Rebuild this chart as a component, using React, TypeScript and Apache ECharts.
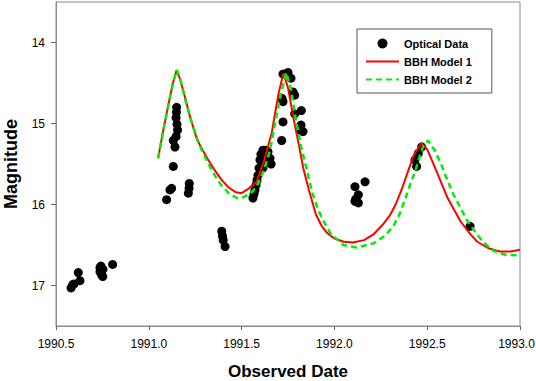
import React, { useEffect, useRef } from "react";
import * as echarts from "echarts";

// Observed optical data (date, magnitude)
const obsDate = [
  1990.581, 1990.59, 1990.597, 1990.62, 1990.629,
  1990.742, 1990.737, 1990.746, 1990.752, 1990.737, 1990.753, 1990.805,
  1991.15, 1991.149, 1991.147, 1991.152, 1991.155, 1991.147, 1991.132, 1991.141, 1991.132, 1991.123, 1991.114, 1991.096, 1991.218, 1991.213, 1991.217,
  1991.393, 1991.397, 1991.401, 1991.411,
  1991.561, 1991.567, 1991.572, 1991.578, 1991.583, 1991.588, 1991.594, 1991.599, 1991.604, 1991.615, 1991.631, 1991.642, 1991.653, 1991.659, 1991.631, 1991.615,
  1991.723, 1991.75, 1991.766, 1991.777, 1991.723, 1991.718, 1991.786, 1991.822, 1991.786, 1991.723, 1991.813, 1991.831, 1991.716, 1991.82,
  1992.165, 1992.111, 1992.129, 1992.111, 1992.129, 1992.116,
  1992.443, 1992.434, 1992.452, 1992.47,
  1992.731,
];
const obsMag = [
  17.03, 16.99, 16.98, 16.84, 16.94,
  16.76, 16.83, 16.87, 16.89, 16.78, 16.8, 16.74,
  14.8, 14.86, 14.93, 15.01, 15.08, 15.16, 15.21, 15.29, 15.53, 15.8, 15.82, 15.94, 15.74, 15.86, 15.8,
  16.33, 16.39, 16.44, 16.52,
  15.92, 15.87, 15.82, 15.76, 15.7, 15.64, 15.55, 15.45, 15.38, 15.33, 15.33, 15.35, 15.43, 15.5, 15.45, 15.55,
  14.39, 14.37, 14.44, 14.61, 14.73, 14.69, 14.65, 14.84, 14.88, 14.98, 15.08, 15.1, 15.21, 15.02,
  15.72, 15.78, 15.88, 15.96, 15.98, 15.93,
  15.53, 15.45, 15.37, 15.29,
  16.27,
];

// BBH Model 1 (red solid)
const model1Date = [
  1991.05, 1991.08, 1991.11, 1991.13, 1991.15, 1991.17, 1991.2, 1991.22, 1991.26, 1991.31,
  1991.35, 1991.39, 1991.43, 1991.47, 1991.5, 1991.54, 1991.58, 1991.617, 1991.64, 1991.662,
  1991.68, 1991.7, 1991.725, 1991.75, 1991.78, 1991.81, 1991.832, 1991.86, 1991.88, 1991.9,
  1991.93, 1991.96, 1992.0, 1992.05, 1992.1, 1992.16, 1992.21, 1992.26, 1992.3, 1992.33,
  1992.36, 1992.4, 1992.43, 1992.47, 1992.5, 1992.53, 1992.57, 1992.61, 1992.68, 1992.73,
  1992.77, 1992.83, 1992.89, 1992.95, 1993.0,
];
const model1Mag = [
  15.43, 15.06, 14.72, 14.5, 14.34, 14.46, 14.72, 14.9, 15.2, 15.41,
  15.56, 15.69, 15.79, 15.85, 15.86, 15.8, 15.72, 15.49, 15.3, 15.12,
  14.88, 14.62, 14.38, 14.56, 14.94, 15.28, 15.55, 15.8, 15.96, 16.12,
  16.26, 16.35, 16.42, 16.46, 16.47, 16.44, 16.37, 16.25, 16.13, 16.0,
  15.83, 15.57, 15.38, 15.24, 15.32, 15.48, 15.7, 15.92, 16.21, 16.36,
  16.46, 16.54, 16.58, 16.58, 16.56,
];

// BBH Model 2 (green dashed)
const model2Date = [
  1991.05, 1991.08, 1991.11, 1991.13, 1991.152, 1991.175, 1991.2, 1991.23, 1991.27, 1991.31,
  1991.35, 1991.39, 1991.43, 1991.475, 1991.51, 1991.55, 1991.58, 1991.62, 1991.653, 1991.68,
  1991.71, 1991.74, 1991.765, 1991.79, 1991.82, 1991.851, 1991.88, 1991.91, 1991.94, 1991.98,
  1992.048, 1992.12, 1992.21, 1992.27, 1992.317, 1992.353, 1992.38, 1992.407, 1992.434, 1992.46,
  1992.48, 1992.505, 1992.54, 1992.575, 1992.605, 1992.64, 1992.677, 1992.71, 1992.75, 1992.8,
  1992.856, 1992.92, 1993.0,
];
const model2Mag = [
  15.43, 15.06, 14.72, 14.5, 14.34, 14.5, 14.74, 14.98, 15.25, 15.45,
  15.62, 15.76, 15.86, 15.92, 15.91, 15.86, 15.78, 15.58, 15.33, 15.0,
  14.65, 14.37, 14.56, 14.92, 15.28, 15.57, 15.85, 16.05, 16.2, 16.36,
  16.5, 16.53, 16.48, 16.39, 16.27, 16.11, 15.94, 15.76, 15.6, 15.4,
  15.27, 15.21, 15.33, 15.5, 15.68, 15.87, 16.03, 16.18, 16.31, 16.46,
  16.57, 16.62, 16.63,
];

const yLabelValues = [14, 15, 16, 17];
const seriesNames = ["Optical Data", "BBH Model 1", "BBH Model 2"];
const xAxisTitle = "Observed Date";
const yAxisTitle = "Magnitude";

const zip = (xs: number[], ys: number[]) => xs.map((x, i) => [x, ys[i]]);

export default function App() {
  const ref = useRef<HTMLDivElement>(null);
  useEffect(() => {
    const chart = echarts.init(ref.current!, null, { renderer: "svg" });
    const font = "'Liberation Sans', Arial, Helvetica, sans-serif";
    const axisGray = "#8a8a8a";
    const xMax = 1993.0;
    chart.setOption({
      animation: false,
      backgroundColor: "#fff",
      grid: {
        left: 56,
        right: 16,
        top: 2,
        bottom: 55,
        show: true,
        borderColor: axisGray,
        borderWidth: 1,
        backgroundColor: "transparent",
        containLabel: false,
        outerBoundsMode: "none",
      },
      xAxis: {
        type: "value",
        min: 1990.5,
        max: xMax,
        interval: 0.5,
        axisLine: { show: true, onZero: false, lineStyle: { color: axisGray, width: 1 } },
        axisTick: { show: true, length: 4, lineStyle: { color: "#666" } },
        axisLabel: {
          margin: 12,
          fontSize: 12,
          color: "#000",
          fontFamily: font,
          formatter: (v: number) =>
            v >= xMax - 1e-9 ? `{last|${v.toFixed(1)}}` : v.toFixed(1),
          rich: {
            last: {
              fontSize: 12,
              color: "#000",
              fontFamily: font,
              padding: [0, 7, 0, 0],
            },
          },
        },
        splitLine: { show: false },
      },
      yAxis: {
        type: "value",
        inverse: true,
        min: 13.5,
        max: 17.5,
        axisLine: { show: true, onZero: false, lineStyle: { color: axisGray, width: 1 } },
        axisTick: { show: true, length: 5, customValues: yLabelValues, lineStyle: { color: "#666" } },
        axisLabel: {
          customValues: yLabelValues,
          margin: 11,
          fontSize: 12,
          color: "#000",
          fontFamily: font,
        },
        splitLine: { show: false },
      },
      legend: {
        show: true,
        orient: "vertical",
        left: 357,
        top: 29,
        padding: [9, 20, 8, 8],
        itemGap: 7,
        itemWidth: 33,
        itemHeight: 10,
        borderColor: "#555",
        borderWidth: 1,
        backgroundColor: "#fff",
        textStyle: { fontSize: 11, fontWeight: "bold", color: "#000", fontFamily: font },
        data: [
          { name: seriesNames[0], icon: "circle" },
          { name: seriesNames[1], itemStyle: { opacity: 0 } },
          { name: seriesNames[2], itemStyle: { opacity: 0 } },
        ],
      },
      graphic: [
        {
          type: "text",
          x: 288,
          y: 371,
          style: {
            text: xAxisTitle,
            align: "center",
            verticalAlign: "middle",
            font: `bold 17px ${font}`,
            fill: "#000",
          },
        },
        {
          type: "text",
          x: 11,
          y: 164,
          rotation: Math.PI / 2,
          style: {
            text: yAxisTitle,
            align: "center",
            verticalAlign: "middle",
            font: `bold 18px ${font}`,
            fill: "#000",
          },
        },
      ],
      series: [
        {
          name: seriesNames[0],
          type: "scatter",
          data: zip(obsDate, obsMag),
          symbol: "circle",
          symbolSize: 9,
          itemStyle: { color: "#000", opacity: 1 },
          z: 2,
        },
        {
          name: seriesNames[1],
          type: "line",
          data: zip(model1Date, model1Mag),
          showSymbol: false,
          symbol: "none",
          smooth: false,
          lineStyle: { color: "#ff0000", width: 2 },
          itemStyle: { color: "#ff0000" },
          z: 3,
        },
        {
          name: seriesNames[2],
          type: "line",
          data: zip(model2Date, model2Mag),
          showSymbol: false,
          symbol: "none",
          smooth: false,
          lineStyle: { color: "#00ee00", width: 2.5, type: [6, 4] },
          itemStyle: { color: "#00ee00" },
          z: 4,
        },
      ],
    });
    return () => chart.dispose();
  }, []);
  return (
    <div
      ref={ref}
      style={{ position: "fixed", left: 0, top: 0, width: 536, height: 381 }}
    />
  );
}
